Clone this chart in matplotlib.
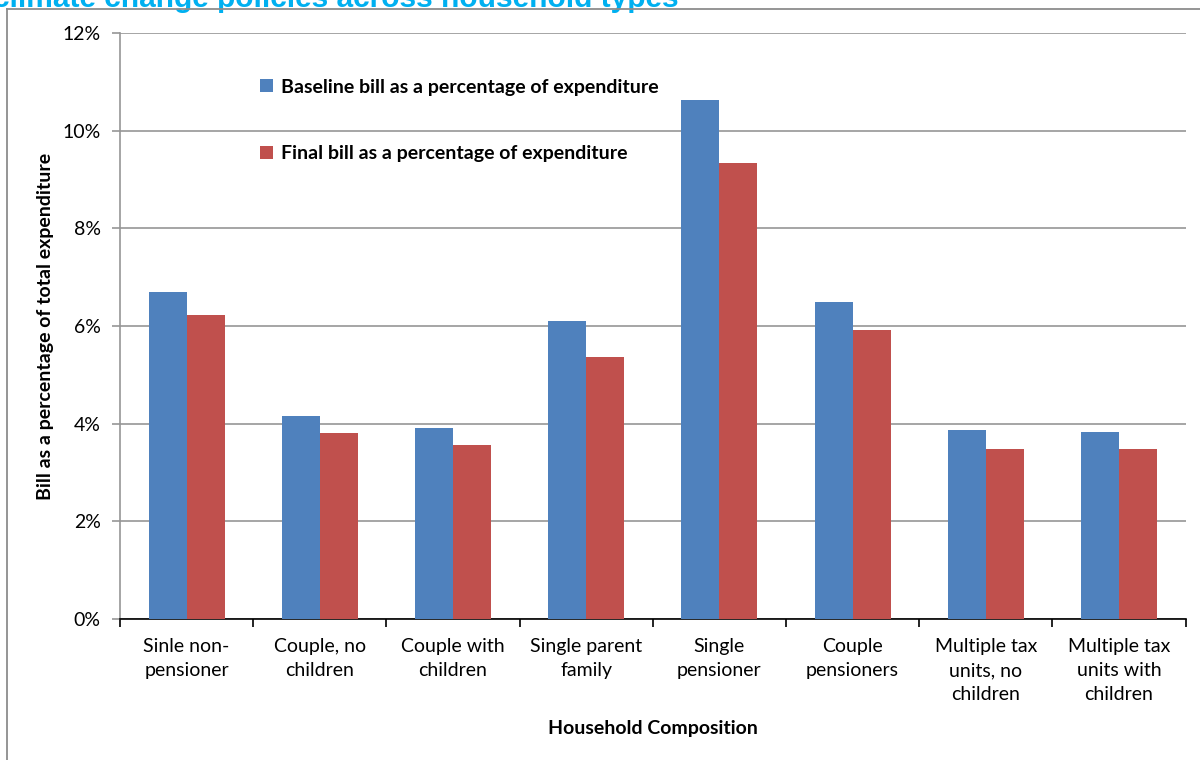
import numpy as np
import matplotlib.pyplot as plt
from matplotlib.lines import Line2D
from matplotlib.ticker import PercentFormatter

plt.rcParams['font.family'] = ['Lato', 'DejaVu Sans']

categories = ['Sinle non-\npensioner', 'Couple, no\nchildren', 'Couple with\nchildren',
              'Single parent\nfamily', 'Single\npensioner', 'Couple\npensioners',
              'Multiple tax\nunits, no\nchildren', 'Multiple tax\nunits with\nchildren']
baseline = [6.70, 4.16, 3.91, 6.10, 10.63, 6.49, 3.87, 3.83]
final = [6.23, 3.81, 3.57, 5.37, 9.33, 5.91, 3.49, 3.49]
series_names = ['Baseline bill as a percentage of expenditure',
                'Final bill as a percentage of expenditure']

fs = 14

fig = plt.figure(figsize=(12, 7.6), dpi=100)
ax = fig.add_axes([0.1, 0.1855, 0.888, 0.7711])

x = np.arange(len(categories))
w = 0.286
ax.bar(x - w / 2, baseline, w, color='#4F81BD', label=series_names[0], zorder=3)
ax.bar(x + w / 2, final, w, color='#C0504D', label=series_names[1], zorder=3)

ax.set_ylim(0, 12)
ax.set_xlim(-0.5, len(categories) - 0.5)
ax.set_yticks(np.arange(0, 13, 2))
ax.yaxis.set_major_formatter(PercentFormatter(decimals=0))
ax.grid(axis='y', color='#969696', linewidth=1.2, zorder=0)

# ticks between groups, labels under the group centres
ax.set_xticks(np.arange(-0.5, len(categories)), labels=[])
ax.set_xticks(x, labels=categories, minor=True)
for lbl in ax.get_xticklabels(minor=True):
    lbl.set_linespacing(1.5)
ax.tick_params(axis='x', which='major', direction='out', length=6, color='black', width=1.2)
ax.tick_params(axis='x', which='minor', length=0, pad=14, labelsize=fs)
ax.tick_params(axis='y', direction='out', length=6, color='#969696', width=1.2,
               labelsize=fs, pad=8)

for side in ['top', 'right']:
    ax.spines[side].set_visible(False)
ax.spines['left'].set_color('#969696')
ax.spines['left'].set_linewidth(1.2)
ax.spines['bottom'].set_color('black')
ax.spines['bottom'].set_linewidth(1.2)

ax.set_ylabel('Bill as a percentage of total expenditure', fontsize=fs,
              fontweight='bold', labelpad=6)
ax.set_xlabel('Household Composition', fontsize=fs, fontweight='bold', labelpad=12)

ax.legend(loc='upper left', bbox_to_anchor=(0.115, 0.952), frameon=False,
          prop={'weight': 'bold', 'size': fs},
          handlelength=0.65, handleheight=0.65, handletextpad=0.45, labelspacing=2.55)

# chart border, running off the right and bottom edges
fig.add_artist(Line2D([7 / 1200, 7 / 1200], [0, 1 - 9 / 760], color='#8c8c8c', lw=1.3))
fig.add_artist(Line2D([7 / 1200, 1], [1 - 9 / 760, 1 - 9 / 760], color='#8c8c8c', lw=1.3))

fig.text(-0.006, 1 - 7 / 760, 'climate change policies across household types',
         color='#00B0F0', fontsize=21.5, fontweight='bold', va='baseline', ha='left',
         family=['Liberation Sans', 'DejaVu Sans'], zorder=0)

fig.savefig('out.png', dpi=100)
